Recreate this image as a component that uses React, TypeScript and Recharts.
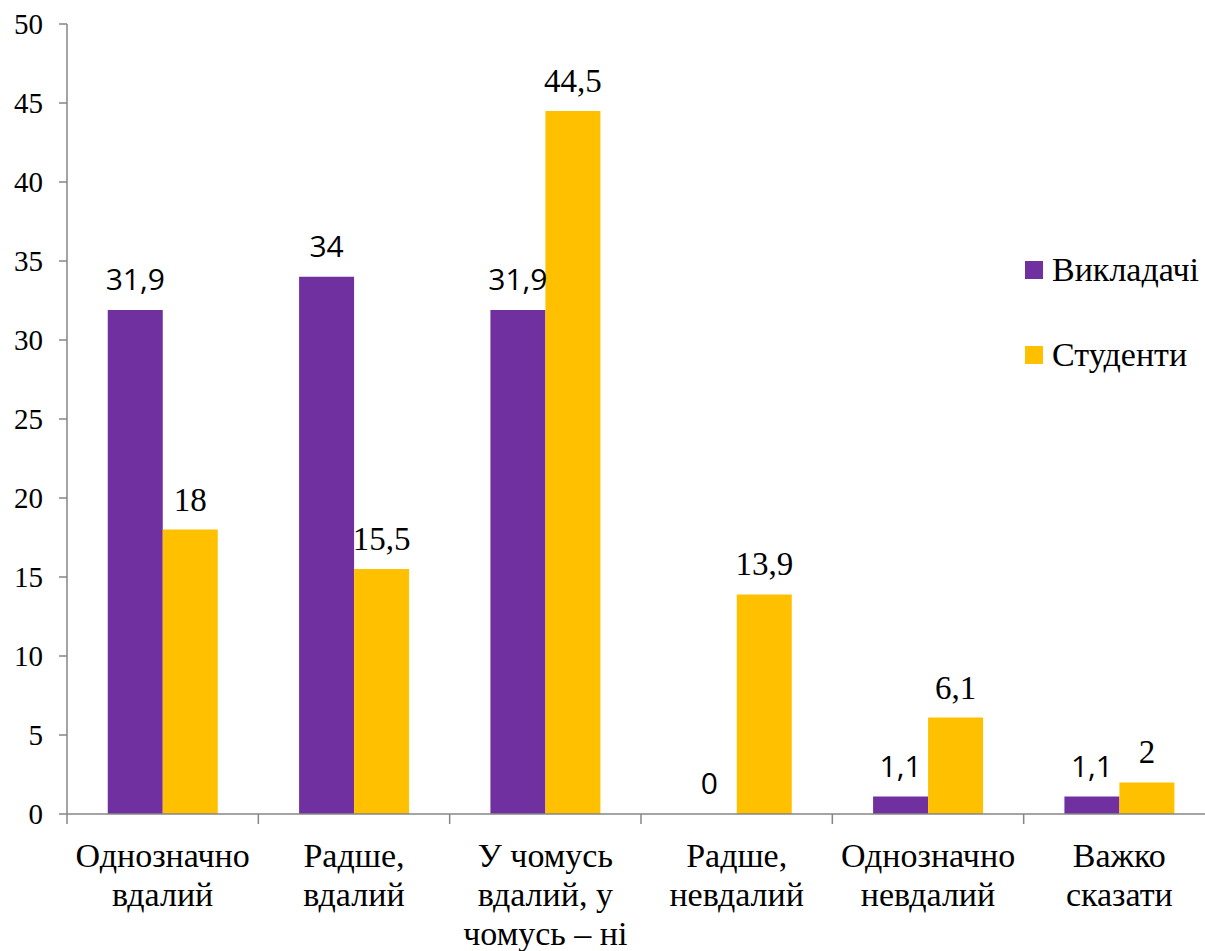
import { BarChart, Bar, XAxis, YAxis, Legend, LabelList } from 'recharts';

const categories = [
  'Однозначно\nвдалий',
  'Радше,\nвдалий',
  'У чомусь\nвдалий, у\nчомусь – ні',
  'Радше,\nневдалий',
  'Однозначно\nневдалий',
  'Важко\nсказати',
];
const teachers = [31.9, 34, 31.9, 0, 1.1, 1.1];
const students = [18, 15.5, 44.5, 13.9, 6.1, 2];
const yTicks = [0, 5, 10, 15, 20, 25, 30, 35, 40, 45, 50];

const data = categories.map((name, i) => ({
  name,
  teachers: teachers[i],
  students: students[i],
}));

const SERIF = "'Times New Roman', 'Liberation Serif', serif";
const SANS = "'Open Sans', sans-serif";
const AXIS = '#868686';

const fmt = (v: any) => String(v).replace('.', ',');

// category label plus the Excel-style tick mark on the left edge of each band
function CategoryTick(props: any) {
  const { x, y, payload } = props;
  const lines = String(payload.value).split('\n');
  const half = payload.offset ?? 0;
  return (
    <g>
      {half > 0 && (
        <line x1={x - half} x2={x - half} y1={y} y2={y + 10} stroke={AXIS} strokeWidth={1.5} />
      )}
      <text x={x} y={y} textAnchor="middle" fontFamily={SERIF} fontSize={34} fill="#000">
        {lines.map((line, i) => (
          <tspan key={i} x={x} dy={i === 0 ? 53 : 39}>
            {line}
          </tspan>
        ))}
      </text>
    </g>
  );
}

function renderLegend(props: any) {
  const { payload } = props;
  return (
    <div>
      {payload.map((entry: any, i: number) => (
        <div key={i} style={{ display: 'flex', alignItems: 'center', height: 85 }}>
          <span style={{ width: 18, height: 18, background: entry.color, marginRight: 9 }} />
          <span style={{ fontFamily: SERIF, fontSize: 34, color: '#000' }}>{entry.value}</span>
        </div>
      ))}
    </div>
  );
}

export default function App() {
  return (
    <div style={{ position: 'absolute', left: 0, top: 0, width: 1205, height: 951, overflow: 'hidden', background: '#fff' }}>
      <BarChart
        width={1230}
        height={951}
        data={data}
        margin={{ top: 24, right: 15, bottom: 0, left: 0 }}
        barCategoryGap="21.3%"
        barGap={0}
      >
        <XAxis
          dataKey="name"
          height={137}
          axisLine={{ stroke: AXIS, strokeWidth: 1.5 }}
          tickLine={false}
          tickSize={0}
          tickMargin={0}
          interval={0}
          tick={<CategoryTick />}
        />
        <YAxis
          width={67}
          domain={[0, 50]}
          ticks={yTicks}
          interval={0}
          tickSize={8}
          tickMargin={16}
          axisLine={{ stroke: AXIS, strokeWidth: 1.5 }}
          tickLine={{ stroke: AXIS, strokeWidth: 1.5 }}
          tick={{ fontFamily: SERIF, fontSize: 29, fill: '#000' }}
        />
        <Legend
          layout="vertical"
          align="center"
          verticalAlign="middle"
          content={renderLegend}
          wrapperStyle={{ left: 1025, top: 227, width: 200 }}
        />
        <Bar dataKey="teachers" name="Викладачі" fill="#7030A0" minPointSize={0.01} isAnimationActive={false}>
          <LabelList
            dataKey="teachers"
            position="top"
            offset={20}
            formatter={fmt}
            style={{ fontFamily: SANS, fontSize: 30, fill: '#000' }}
          />
        </Bar>
        <Bar dataKey="students" name="Студенти" fill="#FFC000" isAnimationActive={false}>
          <LabelList
            dataKey="students"
            position="top"
            offset={19}
            formatter={fmt}
            style={{ fontFamily: SERIF, fontSize: 33, fill: '#000' }}
          />
        </Bar>
      </BarChart>
    </div>
  );
}
